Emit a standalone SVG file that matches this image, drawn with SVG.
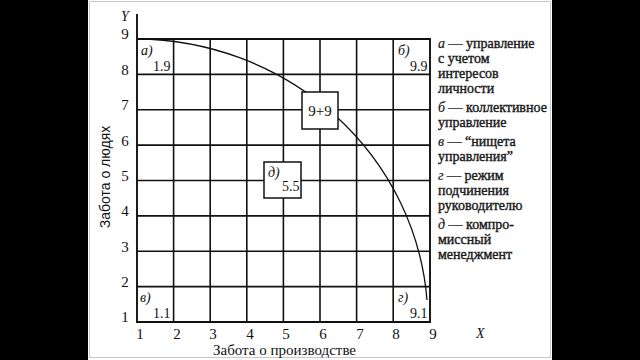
<svg xmlns="http://www.w3.org/2000/svg" width="640" height="360" viewBox="0 0 640 360">
<style>
.g{stroke:#111;stroke-width:1.6;fill:none}
.ax{stroke:#111;stroke-width:1.9;fill:none}
.t{font-family:"Liberation Serif",serif;font-size:15px;fill:#111}
.i{font-family:"Liberation Serif",serif;font-size:14px;font-style:italic;fill:#111}
.n{font-family:"Liberation Serif",serif;font-size:14px;fill:#111}
.lg{font-family:"Liberation Serif",serif;font-size:14px;fill:#1a1a1a;stroke:#1a1a1a;stroke-width:0.4}
.s{font-family:"Liberation Sans",sans-serif;font-size:14px;fill:#111}
.box{fill:#fff;stroke:#111;stroke-width:1.5}
</style>
<rect x="0" y="0" width="640" height="360" fill="#000"/>
<rect x="88" y="0" width="464" height="360" fill="#fff"/>
<rect x="89.5" y="1.5" width="461" height="356" fill="none" stroke="#c8c8c8" stroke-width="1"/>
<g id="grid">
<path class="g" d="M173.6,39V322M210.2,39V322M246.8,39V322M283.4,39V322M320,39V322M356.6,39V322M393.2,39V322"/>
<path class="g" d="M137,74.4H430M137,109.8H430M137,145.1H430M137,180.5H430M137,215.9H430M137,251.3H430M137,286.6H430"/>
<path class="ax" d="M137,14V322H430V39H137"/>
</g>
<g id="axis-labels">
<text class="i" x="121" y="21" font-size="15">Y</text>
<text class="i" x="476" y="338" font-size="15">X</text>
<g class="t" text-anchor="middle">
<text x="125" y="39">9</text><text x="125" y="75">8</text><text x="125" y="110">7</text><text x="125" y="146">6</text><text x="125" y="181">5</text><text x="125" y="216">4</text><text x="125" y="252">3</text><text x="125" y="287">2</text><text x="125" y="322">1</text>
<text x="140" y="339">1</text><text x="177" y="339">2</text><text x="213" y="339">3</text><text x="250" y="339">4</text><text x="286" y="339">5</text><text x="323" y="339">6</text><text x="360" y="339">7</text><text x="396" y="339">8</text><text x="433" y="339">9</text>
</g>
<text class="t" x="213" y="355">Забота о производстве</text>
<text class="s" transform="translate(110,177) rotate(-90)" text-anchor="middle">Забота о людях</text>
</g>
<g id="connectors">
<path d="M137,39 A293,283 0 0 1 427,300" stroke="#111" stroke-width="1.3" fill="none"/>
</g>
<g id="node-a"><text class="i" x="141" y="55">а)</text><text class="n" x="153" y="71">1.9</text></g>
<g id="node-b"><text class="i" x="398" y="55">б)</text><text class="n" x="410" y="71">9.9</text></g>
<g id="node-v"><text class="i" x="140" y="302">в)</text><text class="n" x="153" y="318">1.1</text></g>
<g id="node-g"><text class="i" x="398" y="302">г)</text><text class="n" x="410" y="318">9.1</text></g>
<g id="node-99"><rect class="box" x="302" y="92" width="36" height="37"/><text class="t" x="320" y="116" text-anchor="middle">9+9</text></g>
<g id="node-d"><rect class="box" x="264" y="162" width="37" height="36"/><text class="i" x="268" y="177">д)</text><text class="n" x="282" y="191">5.5</text></g>
<g id="legend" class="lg">
<text x="438" y="48"><tspan font-style="italic" stroke-width="0.2">а</tspan> — управление</text>
<text x="438" y="63">с учетом</text>
<text x="438" y="78">интересов</text>
<text x="438" y="93">личности</text>
<text x="438" y="112"><tspan font-style="italic" stroke-width="0.2">б</tspan> — коллективное</text>
<text x="438" y="127">управление</text>
<text x="438" y="146"><tspan font-style="italic" stroke-width="0.2">в</tspan> — “нищета</text>
<text x="438" y="161">управления”</text>
<text x="438" y="180"><tspan font-style="italic" stroke-width="0.2">г</tspan> — режим</text>
<text x="438" y="195">подчинения</text>
<text x="438" y="210">руководителю</text>
<text x="438" y="229"><tspan font-style="italic" stroke-width="0.2">д</tspan> — компро-</text>
<text x="438" y="244">миссный</text>
<text x="438" y="259">менеджмент</text>
</g>
</svg>
